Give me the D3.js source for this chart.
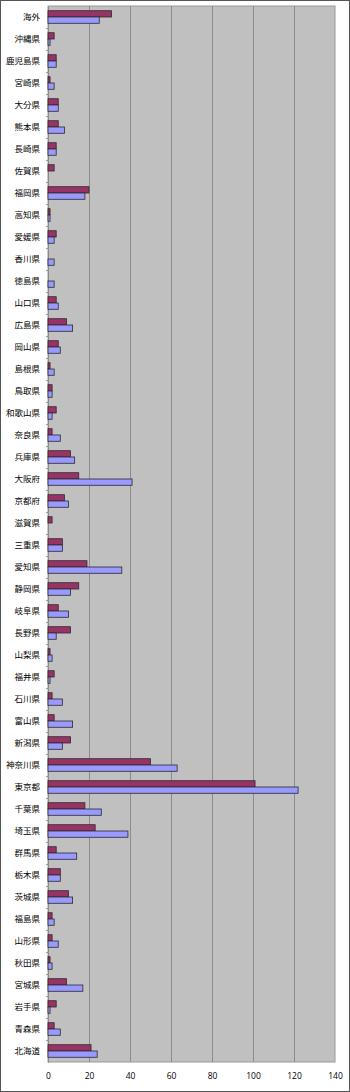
<!DOCTYPE html>
<html><head><meta charset="utf-8">
<script src="https://cdn.jsdelivr.net/npm/d3@7"></script>
<style>html,body{margin:0;padding:0;background:#fff;}svg{display:block;}</style>
</head><body>
<script>
const categories = ["海外","沖縄県","鹿児島県","宮崎県","大分県","熊本県","長崎県","佐賀県","福岡県","高知県","愛媛県","香川県","徳島県","山口県","広島県","岡山県","島根県","鳥取県","和歌山県","奈良県","兵庫県","大阪府","京都府","滋賀県","三重県","愛知県","静岡県","岐阜県","長野県","山梨県","福井県","石川県","富山県","新潟県","神奈川県","東京都","千葉県","埼玉県","群馬県","栃木県","茨城県","福島県","山形県","秋田県","宮城県","岩手県","青森県","北海道"];
const series1 = [31,3,4,1,5,5,4,3,20,1,4,0,0,4,9,5,1,2,4,2,11,15,8,2,7,19,15,5,11,1,3,2,3,11,50,101,18,23,4,6,10,2,2,1,9,4,3,21];
const series2 = [25,1,4,3,5,8,4,0,18,1,3,3,3,5,12,6,3,2,2,6,13,41,10,0,7,36,11,10,4,2,1,7,12,7,63,122,26,39,14,6,12,3,5,2,17,1,6,24];
const xTicks = [0,20,40,60,80,100,120,140];

const W = 350, H = 1092;
const svg = d3.select("body").append("svg").attr("width", W).attr("height", H);
svg.append("rect").attr("x",0.5).attr("y",0.5).attr("width",W-1).attr("height",H-1)
  .attr("fill","#fff").attr("stroke","#555");

const mL = 48, mR = 335, mT = 6, mB = 1062;
const x = d3.scaleLinear().domain([0,140]).range([mL,mR]);
const y = d3.scaleBand().domain(categories).range([mT,mB]);
const yi = d3.scaleBand().domain(["s1","s2"]).range([0,y.bandwidth()]).paddingOuter(0.75);

svg.append("rect").attr("x",mL).attr("y",mT).attr("width",mR-mL).attr("height",mB-mT)
  .attr("fill","#c0c0c0").attr("stroke","#9a9a9a");

svg.append("g").selectAll("line").data(xTicks.slice(1,-1)).join("line")
  .attr("x1",d=>Math.round(x(d))+0.5).attr("x2",d=>Math.round(x(d))+0.5)
  .attr("y1",mT).attr("y2",mB).attr("stroke","#8c8c8c").attr("stroke-width",1);

const yAxis = d3.axisLeft(y).tickSize(0).tickPadding(8);
const gy = svg.append("g").attr("transform",`translate(${mL},0)`).call(yAxis);
gy.select(".domain").attr("stroke","#888");
gy.selectAll("text").attr("font-family","'Noto Sans CJK JP', sans-serif").attr("font-size","8.5px").attr("fill","#000");
svg.append("g").selectAll("line").data(categories.slice(1)).join("line")
  .attr("x1",mL-2).attr("x2",mL+1)
  .attr("y1",d=>Math.round(y(d))+0.5).attr("y2",d=>Math.round(y(d))+0.5)
  .attr("stroke","#999");

const xAxis = d3.axisBottom(x).tickValues(xTicks).tickSize(0).tickPadding(11);
const gx = svg.append("g").attr("transform",`translate(0,${mB})`).call(xAxis);
gx.select(".domain").remove();
gx.selectAll("text").attr("font-family","'Open Sans', sans-serif").attr("font-size","8.5px").attr("fill","#000");

const data = categories.map((c,i)=>({c, v1:series1[i], v2:series2[i]}));
const g = svg.append("g");
g.selectAll("rect.s1").data(data.filter(d=>d.v1>0)).join("rect").attr("class","s1")
  .attr("x",x(0)).attr("y",d=>y(d.c)+yi("s1"))
  .attr("width",d=>x(d.v1)-x(0)).attr("height",yi.bandwidth())
  .attr("fill","#993366").attr("stroke","#2a2a2a").attr("stroke-width",0.8);
g.selectAll("rect.s2").data(data.filter(d=>d.v2>0)).join("rect").attr("class","s2")
  .attr("x",x(0)).attr("y",d=>y(d.c)+yi("s2"))
  .attr("width",d=>x(d.v2)-x(0)).attr("height",yi.bandwidth())
  .attr("fill","#9999ff").attr("stroke","#2a2a2a").attr("stroke-width",0.8);
</script>
</body></html>
